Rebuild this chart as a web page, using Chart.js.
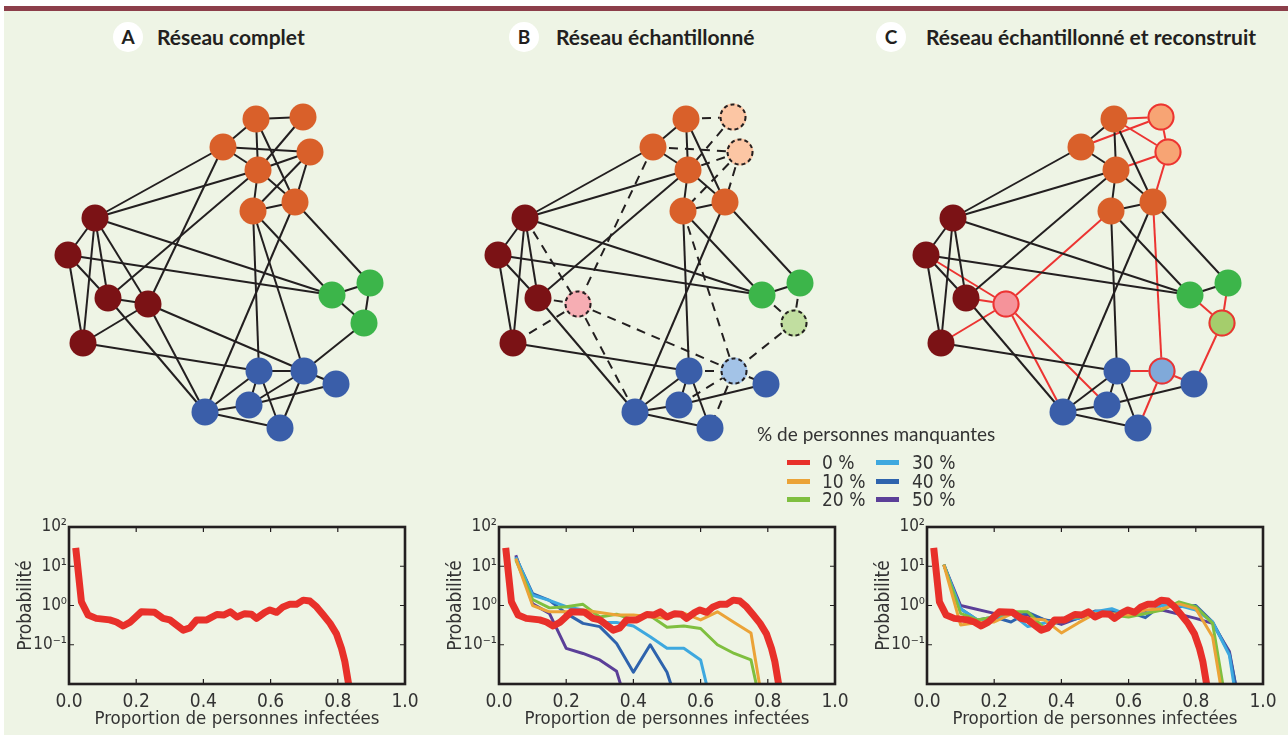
<!DOCTYPE html>
<html>
<head>
<meta charset="utf-8">
<script src="https://cdn.jsdelivr.net/npm/chart.js@4.4.1/dist/chart.umd.min.js"></script>
<style>
  body { margin: 0; width: 1288px; height: 744px; background: #fff; position: relative; overflow: hidden; font-family: Lato, 'Open Sans', sans-serif; color: #231f20; }
  #bg { position: absolute; left: 4px; top: 6px; width: 1284px; height: 729px; background: #eef4e5; border-top: 5px solid #8c3e4a; box-sizing: border-box; }
  canvas { position: absolute; }
  .dot { position: absolute; top: 22px; width: 30px; height: 30px; border-radius: 50%; background: #fff; font-weight: 700; font-size: 19px; line-height: 30px; text-align: center; }
  .head { position: absolute; top: 23px; font-weight: 700; font-size: 21px; line-height: 28px; white-space: nowrap; }
  #legend { position: absolute; left: 757px; top: 422px; color: #333; }
  #legend .ttl { font-size: 19px; white-space: nowrap; }
  .item { position: absolute; font-family: 'Liberation Sans Narrow', 'DejaVu Sans Condensed', sans-serif; font-size: 19px; line-height: 19px; white-space: nowrap; }
  .sw { position: absolute; width: 23px; height: 5px; }
</style>
</head>
<body>
<div id="bg"></div>

<div class="dot" style="left:113px">A</div>
<div class="head" style="left:157px">Réseau complet</div>
<div class="dot" style="left:509px">B</div>
<div class="head" style="left:556px">Réseau échantillonné</div>
<div class="dot" style="left:876px">C</div>
<div class="head" style="left:926px">Réseau échantillonné et reconstruit</div>

<canvas id="netA" width="430" height="390" style="left:0px;top:60px"></canvas>
<canvas id="netB" width="430" height="390" style="left:430px;top:60px"></canvas>
<canvas id="netC" width="430" height="390" style="left:858px;top:60px"></canvas>

<canvas id="probA" width="430" height="239" style="left:0px;top:505px"></canvas>
<canvas id="probB" width="430" height="239" style="left:430px;top:505px"></canvas>
<canvas id="probC" width="430" height="239" style="left:858px;top:505px"></canvas>

<div id="legend"><div class="ttl">% de personnes manquantes</div></div>

<script>
// ---- network layout (same positions in the three panels)
const nodeIds = ['O1','O2','O3','O4','O5','O6','O7','R1','R2','R3','R4','R5','G1','G2','G3','B1','B2','B3','B4','B5','B6'];
const nodeX = [256, 303, 223, 310, 258, 253, 295, 95, 68, 108, 148, 83, 332, 370, 364, 259, 304, 336, 205, 249, 280];
const nodeY = [119, 117, 147, 152, 170, 211, 202, 218, 255, 298, 304, 343, 295, 283, 323, 371, 371, 384, 412, 405, 428];

const edgesFull = [
  ['O1','O2'],['O1','O3'],['O1','O5'],['O1','O7'],['O2','O5'],['O3','O4'],['O3','O5'],['O4','O5'],['O4','O6'],['O4','O7'],['O5','O6'],['O5','O7'],['O6','O7'],
  ['O3','R1'],['O5','R1'],['O3','R4'],['O5','R3'],['O6','B1'],['O6','B2'],['O6','G1'],['O7','G2'],['O7','B4'],
  ['R1','R2'],['R1','R3'],['R1','R4'],['R1','R5'],['R1','G1'],['R2','R3'],['R2','R5'],['R2','G1'],['R3','R4'],['R3','B4'],['R4','R5'],['R4','B4'],['R4','B2'],['R5','B1'],
  ['G1','G2'],['G1','G3'],['G2','G3'],['G3','B2'],
  ['B1','B2'],['B1','B4'],['B1','B5'],['B1','B6'],['B2','B3'],['B2','B6'],['B5','B2'],['B5','B3'],['B4','B5'],['B4','B6']
];
const missing = ['O2','O4','R4','G3','B2'];
const edgesRebuilt = [
  ['O1','O2'],['O3','O2'],['O1','O4'],['O2','O4'],['O5','O4'],['O4','O7'],['O6','R4'],['R2','R4'],['R3','R4'],['R5','R4'],
  ['R4','B4'],['R4','B5'],['O7','B2'],['G1','G3'],['G2','G3'],['G3','B3'],['B1','B2'],['B2','B3'],['B2','B6']
];

const fullColor = { O: '#d9602a', R: '#7b1215', G: '#3cb54a', B: '#3a5ea9' };
const paleColor = { O: '#fcc6a4', R: '#f6adb3', G: '#c1dea0', B: '#a3c3e7' };
const midColor = { O: '#f7a474', R: '#f5939a', G: '#a5cd6c', B: '#80a9d9' };

// ---- curves: proportion infected (x) vs probability (y)
const xRef = [0.02,0.037,0.057,0.081,0.121,0.141,0.161,0.181,0.215,0.255,0.28,0.30,0.34,0.36,0.38,0.41,0.44,0.46,0.48,0.50,0.523,0.543,0.558,0.583,0.598,0.618,0.637,0.657,0.677,0.697,0.717,0.737,0.757,0.777,0.796,0.811,0.821,0.834];
const pRef = [29.5,1.24,0.57,0.47,0.43,0.38,0.30,0.37,0.69,0.67,0.47,0.43,0.236,0.27,0.43,0.43,0.59,0.57,0.69,0.51,0.62,0.60,0.47,0.67,0.77,0.67,0.92,1.07,1.07,1.37,1.30,0.92,0.57,0.35,0.19,0.081,0.037,0.008];

// panel B (sampled)
const xB10 = [0.05,0.1,0.15,0.2,0.25,0.3,0.35,0.4,0.45,0.5,0.55,0.6,0.65,0.7,0.75,0.777];
const pB10 = [15.7,1.0,0.69,0.69,0.77,0.66,0.57,0.57,0.52,0.47,0.64,0.43,0.69,0.37,0.2,0.008];
const xB20 = [0.05,0.1,0.15,0.2,0.25,0.3,0.35,0.4,0.45,0.5,0.55,0.6,0.65,0.7,0.75,0.768];
const pB20 = [14.5,1.42,0.87,0.93,1.07,0.51,0.60,0.43,0.55,0.28,0.30,0.26,0.10,0.06,0.041,0.008];
const xB30 = [0.05,0.1,0.15,0.2,0.25,0.3,0.35,0.4,0.45,0.5,0.55,0.6,0.62];
const pB30 = [17,1.83,1.35,0.93,0.77,0.37,0.37,0.30,0.16,0.081,0.081,0.041,0.008];
const xB40 = [0.05,0.1,0.15,0.2,0.25,0.3,0.35,0.4,0.45,0.5,0.515];
const pB40 = [17,2.0,1.35,0.63,0.35,0.29,0.108,0.02,0.10,0.02,0.008];
const xB50 = [0.05,0.1,0.15,0.2,0.25,0.3,0.35,0.365];
const pB50 = [19,1.1,0.63,0.081,0.06,0.041,0.021,0.008];

// panel C (sampled and rebuilt)
const xC10 = [0.05,0.1,0.15,0.2,0.25,0.3,0.35,0.4,0.45,0.5,0.55,0.6,0.65,0.7,0.75,0.8,0.85,0.875];
const pC10 = [11,0.32,0.37,0.38,0.6,0.47,0.43,0.2,0.36,0.62,0.62,0.57,0.77,0.83,1.1,0.83,0.16,0.008];
const xC20 = [0.05,0.1,0.15,0.2,0.25,0.3,0.35,0.4,0.45,0.5,0.55,0.6,0.65,0.7,0.75,0.8,0.85,0.882];
const pC20 = [11,0.63,0.43,0.51,0.69,0.69,0.26,0.43,0.51,0.62,0.57,0.51,0.62,0.77,1.24,0.93,0.35,0.008];
const xC30 = [0.05,0.1,0.15,0.2,0.25,0.3,0.35,0.4,0.45,0.5,0.55,0.6,0.65,0.7,0.75,0.8,0.85,0.9,0.915];
const pC30 = [11,0.83,0.43,0.47,0.62,0.29,0.36,0.47,0.47,0.69,0.83,0.57,0.62,1.0,1.0,0.77,0.38,0.054,0.008];
const xC40 = [0.05,0.1,0.15,0.2,0.25,0.3,0.35,0.4,0.45,0.5,0.55,0.6,0.65,0.7,0.75,0.8,0.85,0.9,0.92];
const pC40 = [11,0.83,0.43,0.51,0.38,0.67,0.43,0.38,0.47,0.72,0.69,0.69,0.49,1.07,0.93,1.0,0.38,0.06,0.008];
const xC50 = [0.05,0.1,0.2,0.3,0.4,0.5,0.6,0.7,0.8,0.85,0.9,0.92];
const pC50 = [11,1.0,0.63,0.57,0.33,0.69,0.67,0.77,0.47,0.35,0.067,0.008];

const missingLabels = ['0 %','10 %','20 %','30 %','40 %','50 %'];
const lineColors = ['#e8302a','#eba337','#7fbf3f','#3ea8df','#2e63ad','#5b3f98'];
const xTicks = [0, 0.2, 0.4, 0.6, 0.8, 1.0];
const yTicks = [0.01, 0.1, 1, 10, 100];
const yTickLabels = ['', '10\u207B\u00B9', '10\u2070', '10\u00B9', '10\u00B2'];

const narrow = "'Liberation Sans Narrow', 'DejaVu Sans Condensed', sans-serif";

function nodeImg(fill, stroke, dash) {
  const c = document.createElement('canvas');
  c.width = 30; c.height = 30;
  const g = c.getContext('2d');
  g.beginPath();
  g.arc(15, 15, 13.5, 0, Math.PI * 2);
  g.fillStyle = fill;
  g.fill();
  if (stroke) {
    g.beginPath();
    g.arc(15, 15, 12.5, 0, Math.PI * 2);
    g.lineWidth = 2;
    g.strokeStyle = stroke;
    g.setLineDash(dash || []);
    g.stroke();
  }
  return c;
}

function pos(id) {
  const i = nodeIds.indexOf(id);
  return { x: nodeX[i], y: nodeY[i] };
}

function netChart(canvasId, edgeSets, nodeStyle) {
  const datasets = [];
  edgeSets.forEach(set => {
    set.edges.forEach(e => {
      datasets.push({
        data: [pos(e[0]), pos(e[1])],
        showLine: true,
        borderColor: set.color,
        borderWidth: 2,
        borderDash: set.dash || [],
        pointRadius: 0,
        order: 2
      });
    });
  });
  datasets.push({
    data: nodeIds.map(pos),
    pointStyle: nodeIds.map(nodeStyle),
    pointRadius: 13,
    showLine: false,
    order: 0
  });
  new Chart(document.getElementById(canvasId), {
    type: 'scatter',
    data: { datasets },
    options: {
      responsive: false,
      animation: false,
      events: [],
      layout: { padding: 0, autoPadding: false },
      plugins: { legend: { display: false }, tooltip: { enabled: false } },
      scales: {
        x: { display: false, min: 0, max: 430 },
        y: { display: false, min: 60, max: 450, reverse: true }
      }
    }
  });
}

const hasMissing = e => missing.includes(e[0]) || missing.includes(e[1]);
const kept = edgesFull.filter(e => !hasMissing(e));
const lost = edgesFull.filter(hasMissing);

netChart('netA', [{ edges: edgesFull, color: '#231f20' }],
  id => nodeImg(fullColor[id[0]]));
netChart('netB', [{ edges: kept, color: '#231f20' }, { edges: lost, color: '#231f20', dash: [9, 7] }],
  id => missing.includes(id) ? nodeImg(paleColor[id[0]], '#231f20', [4, 3]) : nodeImg(fullColor[id[0]]));
netChart('netC', [{ edges: kept, color: '#231f20' }, { edges: edgesRebuilt, color: '#ec3432' }],
  id => missing.includes(id) ? nodeImg(midColor[id[0]], '#ec3432') : nodeImg(fullColor[id[0]]));

// frame with inward ticks around the plot area
const framePlugin = {
  id: 'frame',
  afterDatasetsDraw(chart) {
    const { ctx, chartArea: a, scales: { x, y } } = chart;
    ctx.save();
    ctx.strokeStyle = '#231f20';
    ctx.lineWidth = 1.2;
    ctx.beginPath();
    xTicks.forEach(v => {
      const px = x.getPixelForValue(v);
      ctx.moveTo(px, a.bottom); ctx.lineTo(px, a.bottom - 5);
      ctx.moveTo(px, a.top); ctx.lineTo(px, a.top + 5);
    });
    yTicks.forEach(v => {
      const py = y.getPixelForValue(v);
      ctx.moveTo(a.left, py); ctx.lineTo(a.left + 5, py);
      ctx.moveTo(a.right, py); ctx.lineTo(a.right - 5, py);
    });
    ctx.stroke();
    ctx.lineWidth = 2.6;
    ctx.strokeRect(a.left, a.top, a.right - a.left, a.bottom - a.top);
    ctx.restore();
  }
};

function probChart(canvasId, series) {
  new Chart(document.getElementById(canvasId), {
    type: 'line',
    data: {
      datasets: series.map(s => ({
        data: s.x.map((v, i) => ({ x: v, y: s.y[i] })),
        borderColor: lineColors[s.c],
        borderWidth: s.c === 0 ? 7 : 3,
        borderJoinStyle: 'round',
        pointRadius: 0,
        tension: 0,
        clip: 0
      }))
    },
    options: {
      responsive: false,
      animation: false,
      events: [],
      layout: { padding: { top: 22, right: 25, left: 0, bottom: 0 }, autoPadding: false },
      plugins: { legend: { display: false }, tooltip: { enabled: false } },
      scales: {
        x: {
          type: 'linear', min: 0, max: 1,
          grid: { display: false, drawTicks: false },
          border: { display: false },
          afterBuildTicks: s => { s.ticks = xTicks.map(v => ({ value: v })); },
          afterFit: s => { s.height = 60; },
          ticks: { callback: v => v.toFixed(1), color: '#333', padding: 7, maxRotation: 0, font: { family: narrow, size: 19 } },
          title: { display: true, text: 'Proportion de personnes infectées', color: '#333', padding: { top: 0, bottom: 14 }, font: { family: narrow, size: 18.5 } }
        },
        y: {
          type: 'logarithmic', min: 0.01, max: 100,
          grid: { display: false, drawTicks: false },
          border: { display: false },
          afterBuildTicks: s => { s.ticks = yTicks.map(v => ({ value: v })); },
          afterFit: s => { s.width = 69; },
          ticks: { callback: (v, i) => yTickLabels[i], color: '#333', padding: 2, font: { family: narrow, size: 17 } },
          title: { display: true, text: 'Probabilité', color: '#333', padding: { top: 15, bottom: 0 }, font: { family: narrow, size: 19 } }
        }
      }
    },
    plugins: [framePlugin]
  });
}

probChart('probA', [{ x: xRef, y: pRef, c: 0 }]);
probChart('probB', [
  { x: xRef, y: pRef, c: 0 },
  { x: xB10, y: pB10, c: 1 },
  { x: xB20, y: pB20, c: 2 },
  { x: xB30, y: pB30, c: 3 },
  { x: xB40, y: pB40, c: 4 },
  { x: xB50, y: pB50, c: 5 }
]);
probChart('probC', [
  { x: xRef, y: pRef, c: 0 },
  { x: xC10, y: pC10, c: 1 },
  { x: xC20, y: pC20, c: 2 },
  { x: xC30, y: pC30, c: 3 },
  { x: xC40, y: pC40, c: 4 },
  { x: xC50, y: pC50, c: 5 }
]);

// legend of missing-people shares
const legend = document.getElementById('legend');
missingLabels.forEach((lab, i) => {
  const col = Math.floor(i / 3), row = i % 3;
  const sw = document.createElement('div');
  sw.className = 'sw';
  sw.style.left = (30 + col * 89) + 'px';
  sw.style.top = (38 + row * 18.5) + 'px';
  sw.style.background = lineColors[i];
  legend.appendChild(sw);
  const t = document.createElement('div');
  t.className = 'item';
  t.style.left = (65 + col * 90) + 'px';
  t.style.top = (31 + row * 18.5) + 'px';
  t.textContent = lab;
  legend.appendChild(t);
});
</script>
</body>
</html>
